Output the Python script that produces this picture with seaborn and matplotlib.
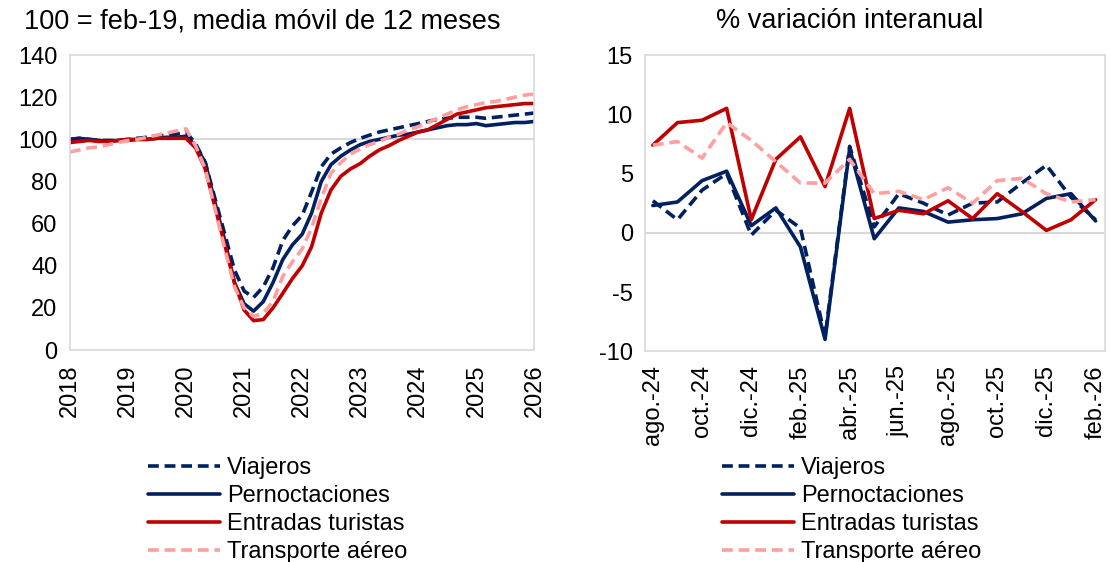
import numpy as np
import pandas as pd
import matplotlib
matplotlib.use("Agg")
import matplotlib.pyplot as plt
import seaborn as sns

# left panel: 12-month moving average, 100 = feb-19, read every 2 months (jan-2018 .. jan-2026)
left_dates = pd.date_range("2018-01-01", periods=49, freq="2MS")
viajeros_idx = [100, 100.5, 100, 99.5, 99.5, 99.5, 100, 100.5, 101, 101.5, 102, 102.5, 103.5,
                98, 89, 72, 55, 38, 28, 25, 30, 39, 52, 59, 64, 75, 87, 93, 96, 98.5,
                100.5, 102, 103.5, 104.5, 105.5, 106.5, 107.5, 108.5, 109.5, 110, 110.5,
                110.5, 110.5, 110, 110.5, 111, 111.5, 112, 112.5]
pernoct_idx = [100, 100.5, 100, 99.5, 99, 99.5, 99.5, 100, 100, 100.5, 101, 101, 101.5,
               97, 89, 70, 52, 32, 22, 18.5, 23, 32, 43, 50, 55, 65, 80, 88, 92, 95,
               97.5, 99, 100, 101, 102, 102.5, 103.5, 104.5, 105.5, 106.5, 107, 107,
               107.5, 106.5, 107, 107.5, 108, 108, 108.5]
entradas_idx = [98.5, 99, 99.5, 99, 99, 99.5, 100, 100, 100, 100.5, 100.5, 100.5, 100.5,
                96, 86, 68, 50, 32, 19, 14, 14.5, 20, 27, 34, 40, 49, 65, 76, 82.5, 86,
                88.5, 92, 95, 97, 99.5, 101.5, 103.5, 104.5, 107, 109.5, 112, 113,
                114, 115, 115.5, 116, 116.5, 117, 117]
aereo_idx = [94, 95, 96, 96.5, 97.5, 98.5, 99.5, 100, 101, 102, 103, 104, 105,
             97, 86, 67, 48, 30, 20, 16, 17.5, 23, 35, 42, 48, 58, 72, 84, 89, 93,
             95.5, 97.5, 99, 101, 102.5, 104.5, 106, 108, 110, 112, 114, 115.5,
             116.5, 117.5, 118, 119, 120, 121, 121.5]
left_ticks = [str(y) for y in range(2018, 2027)]

# right panel: % year-on-year change, ago-24 .. feb-26
right_months = ["ago.-24", "sep.-24", "oct.-24", "nov.-24", "dic.-24", "ene.-25", "feb.-25",
                "mar.-25", "abr.-25", "may.-25", "jun.-25", "jul.-25", "ago.-25", "sep.-25",
                "oct.-25", "nov.-25", "dic.-25", "ene.-26", "feb.-26"]
viajeros_yoy = [2.7, 1.1, 3.6, 5.0, -0.2, 1.9, 0.4, -8.8, 7.3, 0.5, 3.3, 2.5, 1.5, 2.5,
                2.6, 4.2, 5.7, 3.0, 1.1]
pernoct_yoy = [2.3, 2.6, 4.4, 5.2, 0.6, 2.1, -1.2, -9.0, 7.1, -0.5, 2.1, 1.8, 0.9, 1.1,
               1.2, 1.6, 2.9, 3.3, 1.0]
entradas_yoy = [7.4, 9.3, 9.5, 10.5, 1.1, 6.2, 8.1, 3.9, 10.5, 1.2, 1.9, 1.6, 2.7, 1.2,
                3.3, 1.8, 0.2, 1.1, 2.8]
aereo_yoy = [7.4, 7.7, 6.3, 9.3, 7.8, 6.0, 4.2, 4.2, 6.2, 3.3, 3.5, 2.8, 3.8, 2.5,
             4.4, 4.6, 3.3, 2.6, 2.8]

series = ["Viajeros", "Pernoctaciones", "Entradas turistas", "Transporte aéreo"]
palette = {"Viajeros": "#002060", "Pernoctaciones": "#002060",
           "Entradas turistas": "#c00000", "Transporte aéreo": "#ff9f9f"}
dashes = {"Viajeros": (3, 1.6), "Pernoctaciones": "",
          "Entradas turistas": "", "Transporte aéreo": (3, 1.6)}

left_df = pd.concat([
    pd.DataFrame({"fecha": left_dates, "valor": v, "serie": s})
    for s, v in zip(series, [viajeros_idx, pernoct_idx, entradas_idx, aereo_idx])
])
right_df = pd.concat([
    pd.DataFrame({"mes": np.arange(len(right_months)), "valor": v, "serie": s})
    for s, v in zip(series, [viajeros_yoy, pernoct_yoy, entradas_yoy, aereo_yoy])
])

sns.set_theme(style="white")
plt.rcParams["font.family"] = ["Liberation Sans", "DejaVu Sans"]
plt.rcParams["axes.unicode_minus"] = False
plt.rcParams["text.color"] = "black"

fig = plt.figure(figsize=(11.11, 5.62), dpi=100)
ax1 = fig.add_axes([0.063, 0.377, 0.418, 0.525])
ax2 = fig.add_axes([0.581, 0.375, 0.414, 0.527])

for ax, df, xcol in [(ax1, left_df, "fecha"), (ax2, right_df, "mes")]:
    sns.lineplot(data=df, x=xcol, y="valor", hue="serie", style="serie",
                 hue_order=series, style_order=series, palette=palette,
                 dashes=dashes, linewidth=2.6, ax=ax, legend=True)
    for sp in ax.spines.values():
        sp.set_color("#d9d9d9")
        sp.set_linewidth(1.2)
    ax.set_xlabel("")
    ax.set_ylabel("")
    ax.tick_params(axis="both", labelsize=17, length=0, colors="black")
    ax.tick_params(axis="y", pad=9)
    ax.tick_params(axis="x", pad=10)

# left axis
ax1.axhline(100, color="#d9d9d9", lw=1.5, zorder=0)
ax1.set_ylim(0, 140)
ax1.set_yticks(range(0, 141, 20))
year_pos = pd.to_datetime([f"{y}-01-01" for y in left_ticks])
ax1.set_xlim(year_pos[0], year_pos[-1])
ax1.set_xticks(year_pos)
ax1.set_xticklabels(left_ticks, rotation=90)

# right axis
ax2.axhline(0, color="#d9d9d9", lw=1.5, zorder=0)
ax2.set_ylim(-10, 15)
ax2.set_yticks(range(-10, 16, 5))
ax2.set_xlim(-0.3, len(right_months) - 0.6)
ax2.set_xticks(range(0, len(right_months), 2))
ax2.set_xticklabels(right_months[::2], rotation=90)

fig.text(0.236, 0.962, "100 = feb-19, media móvil de 12 meses", ha="center", va="center",
         fontsize=19.5, color="black")
fig.text(0.765, 0.962, "% variación interanual", ha="center", va="center",
         fontsize=19.5, color="black")

for ax, x0 in [(ax1, 0.133), (ax2, 0.65)]:
    handles, labels = ax.get_legend_handles_labels()
    ax.get_legend().remove()
    fig.legend(handles, labels, loc="upper left", bbox_to_anchor=(x0, 0.186),
               frameon=False, fontsize=17, handlelength=3.05, handletextpad=0.3,
               labelspacing=0.25, borderpad=0, borderaxespad=0)

fig.savefig("out.png", dpi=100)
